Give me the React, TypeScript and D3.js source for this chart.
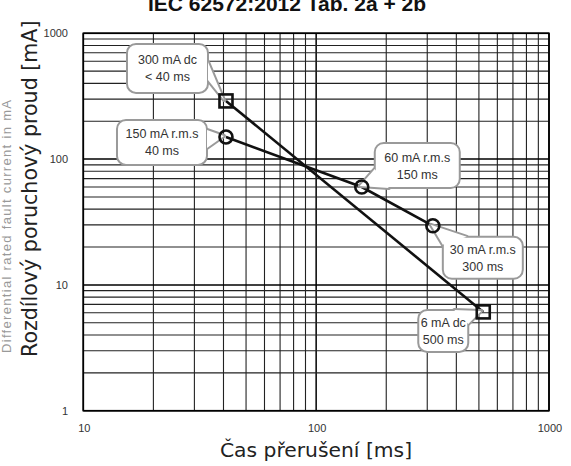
import React from "react";
import * as d3 from "d3";

// ---- data ----
const dcTimes = [41, 522]; // ms
const dcCurrents = [290, 6.1]; // mA
const acTimes = [41, 157, 317]; // ms
const acCurrents = [150, 60, 29.5]; // mA

const xTickValues = [10, 100, 1000];
const yTickValues = [1, 10, 100, 1000];

const titleText = "IEC 62572:2012 Tab. 2a + 2b";
const xLabel = "Čas přerušení [ms]";
const yLabel = "Rozdílový poruchový proud [mA]";
const yLabelHidden = "Differential rated fault current in mA";

const calloutTexts = [
  ["300 mA dc", "< 40 ms"],
  ["150 mA r.m.s", "40 ms"],
  ["60 mA r.m.s", "150 ms"],
  ["30 mA r.m.s", "300 ms"],
  ["6 mA dc", "500 ms"],
];

// layout of callouts (relative to the anchored point)
const calloutLayout = [
  { series: "dc", i: 0, dx: -99, dy: -57, w: 81, h: 49, base: [[81, 18], [81, 36]] },
  { series: "ac", i: 0, dx: -109, dy: -17, w: 90, h: 45, base: [[90, 10], [90, 28]] },
  { series: "ac", i: 1, dx: 13, dy: -44, w: 85, h: 45, base: [[0, 26], [14, 45]] },
  { series: "ac", i: 2, dx: 10, dy: 11, w: 80, h: 42, base: [[0, 8], [24, 0]] },
  { series: "dc", i: 1, dx: -65, dy: -2, w: 50, h: 42, base: [[36, 0], [50, 14]] },
];

const W = 571;
const H = 466;
const L = 83.3, R = 549, T = 33.3, B = 410.7;

export default function App() {
  const x = d3.scaleLog().domain([10, 1000]).range([L, R]);
  const y = d3.scaleLog().domain([1, 1000]).range([B, T]);
  const xGrid = x.ticks();
  const yGrid = y.ticks();
  const isDecade = (v: number) => Math.abs(Math.log10(v) - Math.round(Math.log10(v))) < 1e-9;

  const line = d3.line<[number, number]>().x((d) => x(d[0])).y((d) => y(d[1]));
  const dcPts: [number, number][] = dcTimes.map((t, i) => [t, dcCurrents[i]]);
  const acPts: [number, number][] = acTimes.map((t, i) => [t, acCurrents[i]]);

  const font = "Arial, 'Liberation Sans', sans-serif";
  const bigFont = "'DejaVu Sans', Verdana, sans-serif";

  return (
    <svg width={W} height={H} style={{ position: "absolute", left: 0, top: 0, background: "#fff" }}>
      <rect x={0} y={0} width={W} height={H} fill="#fff" />
      {/* title (cut at the top) */}
      <text x={287} y={11} textAnchor="middle" fontFamily={font} fontWeight="bold" fontSize={21} fill="#111">
        {titleText}
      </text>

      {/* grid */}
      <g>
        {xGrid.map((v, k) => (
          <line key={"gx" + k} x1={x(v)} x2={x(v)} y1={T} y2={B}
            stroke={isDecade(v) ? "#000" : "#222"} strokeWidth={isDecade(v) ? 1.5 : 1.1} />
        ))}
        {yGrid.map((v, k) => (
          <line key={"gy" + k} x1={L} x2={R} y1={y(v)} y2={y(v)}
            stroke={isDecade(v) ? "#000" : "#222"} strokeWidth={isDecade(v) ? 1.5 : 1.1} />
        ))}
        <rect x={L} y={T} width={R - L} height={B - T} fill="none" stroke="#000" strokeWidth={1.6} />
      </g>

      {/* tick labels */}
      {yTickValues.map((v) => (
        <text key={"yt" + v} x={68} y={y(v)} dy="0.35em" textAnchor="end" fontFamily={font} fontSize={11} fill="#333">
          {v}
        </text>
      ))}
      {xTickValues.map((v) => (
        <text key={"xt" + v} x={x(v) + 1} y={428} dy="0.35em" textAnchor="middle" fontFamily={font} fontSize={11} fill="#333">
          {v}
        </text>
      ))}

      {/* axis labels */}
      <text x={316} y={457} textAnchor="middle" fontFamily={bigFont} fontSize={20.3} fill="#222">
        {xLabel}
      </text>
      <text transform={`translate(11,353) rotate(-90)`} fontFamily={font} fontSize={13} fill="#999"
        textLength={253} lengthAdjust="spacing">
        {yLabelHidden}
      </text>
      <text transform={`translate(36.5,357) rotate(-90)`} fontFamily={bigFont} fontSize={20.6} fill="#222">
        {yLabel}
      </text>

      {/* data lines */}
      <path d={line(dcPts) || ""} fill="none" stroke="#111" strokeWidth={2.6} />
      <path d={line(acPts) || ""} fill="none" stroke="#111" strokeWidth={2.6} />

      {/* callouts */}
      {calloutLayout.map((c, k) => {
        const pts = c.series === "dc" ? dcPts : acPts;
        const px = x(pts[c.i][0]);
        const py = y(pts[c.i][1]);
        const bx = px + c.dx;
        const by = py + c.dy;
        const tail = `M${bx + c.base[0][0]},${by + c.base[0][1]} L${px - 2},${py - 1} L${bx + c.base[1][0]},${by + c.base[1][1]} Z`;
        const lines = calloutTexts[k];
        return (
          <g key={"c" + k}>
            <path d={tail} fill="#fff" stroke="#9a9a9a" strokeWidth={4} strokeLinejoin="round" />
            <rect x={bx} y={by} width={c.w} height={c.h} rx={9} fill="#fff" stroke="#9a9a9a" strokeWidth={2} />
            <path d={tail} fill="#fff" stroke="none" />
            {lines.map((s, j) => (
              <text key={j} x={bx + c.w / 2} y={by + c.h / 2 + (j === 0 ? -4 : 13)} textAnchor="middle"
                fontFamily={font} fontSize={12.5} fill="#333">
                {s}
              </text>
            ))}
          </g>
        );
      })}

      {/* markers */}
      {dcPts.map((p, k) => (
        <rect key={"sq" + k} x={x(p[0]) - 6.5} y={y(p[1]) - 6.5} width={13} height={13}
          fill="none" stroke="#111" strokeWidth={2.6} />
      ))}
      {acPts.map((p, k) => (
        <circle key={"ci" + k} cx={x(p[0])} cy={y(p[1])} r={6.5} fill="none" stroke="#111" strokeWidth={2.6} />
      ))}
    </svg>
  );
}
